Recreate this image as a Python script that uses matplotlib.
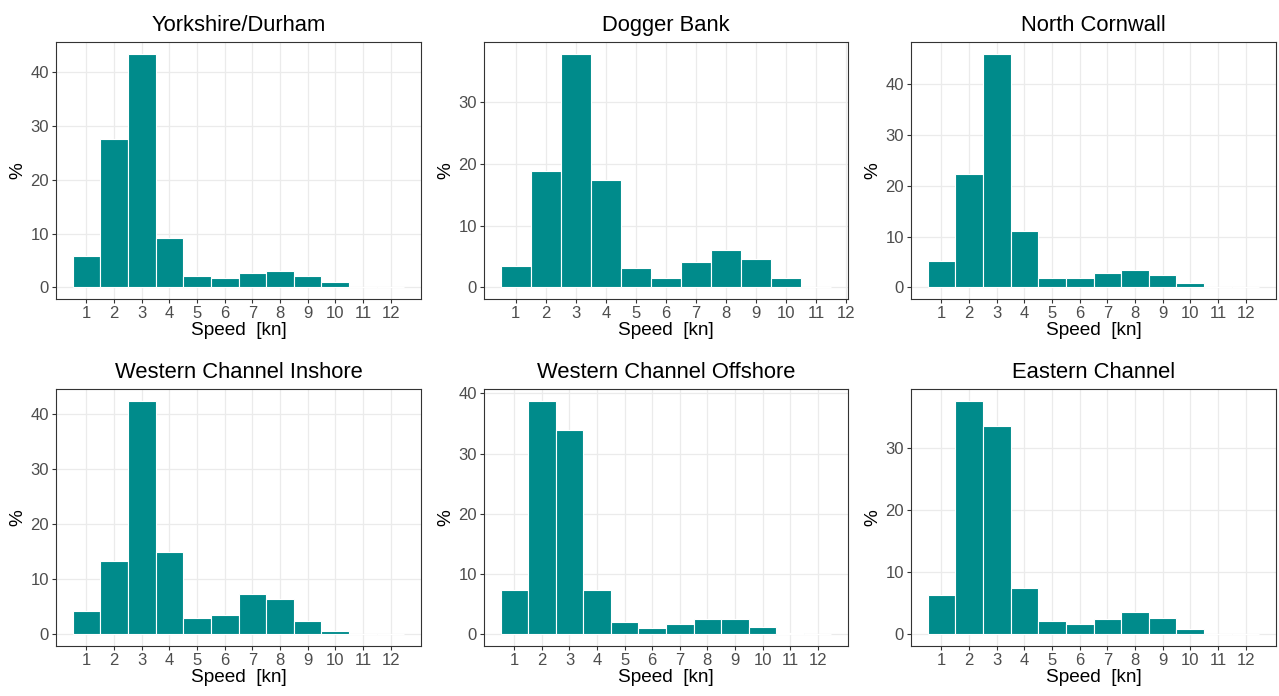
import matplotlib
matplotlib.use("Agg")
import matplotlib.pyplot as plt
from matplotlib.ticker import MultipleLocator

plt.rcParams['font.family'] = ['Liberation Sans', 'DejaVu Sans']

titles = ["Yorkshire/Durham", "Dogger Bank", "North Cornwall",
          "Western Channel Inshore", "Western Channel Offshore", "Eastern Channel"]

# percentage of time in each 1-knot speed bin
yorkshire = [5.8, 27.6, 43.5, 9.1, 2.2, 1.7, 2.7, 3.1, 2.2, 0.9, 0, 0]
dogger = [3.5, 18.9, 37.9, 17.4, 3.2, 1.5, 4.1, 6.0, 4.6, 1.5, 0]
cornwall = [5.2, 22.4, 46.0, 11.0, 1.8, 1.8, 2.9, 3.5, 2.4, 0.9, 0, 0]
wc_inshore = [4.2, 13.4, 42.5, 15.0, 2.9, 3.6, 7.3, 6.5, 2.5, 0.6, 0, 0]
wc_offshore = [7.3, 38.8, 33.9, 7.4, 2.0, 1.1, 1.7, 2.5, 2.5, 1.2, 0.15, 0]
eastern = [6.3, 37.7, 33.6, 7.5, 2.2, 1.7, 2.5, 3.6, 2.6, 0.8, 0, 0]

series = [yorkshire, dogger, cornwall, wc_inshore, wc_offshore, eastern]
speed_ticks = list(range(1, 13))

W, H = 1279, 696
fig = plt.figure(figsize=(W / 100, H / 100), dpi=100)

# panel boxes in pixels (left, top, right, bottom)
boxes = [(56, 42, 421, 299), (484, 42, 848, 299), (911, 42, 1276, 299),
         (56, 389, 421, 646), (484, 389, 848, 646), (911, 389, 1276, 646)]

teal = '#008B8B'
for title, vals, (l, t, r, b) in zip(titles, series, boxes):
    ax = fig.add_axes([l / W, 1 - b / H, (r - l) / W, (b - t) / H])
    n = len(vals)
    xs = list(range(1, n + 1))
    ax.bar(xs, vals, width=1, color=teal, edgecolor='white', linewidth=0.8, zorder=3)

    lo, hi = 0.5, n + 0.5
    pad = 0.05 * (hi - lo)
    ax.set_xlim(lo - pad, hi + pad)
    ymax = max(vals)
    ax.set_ylim(-0.05 * ymax, 1.05 * ymax)

    ax.set_xticks(speed_ticks)
    ax.yaxis.set_major_locator(MultipleLocator(10))
    ax.grid(True, color='#EBEBEB', linewidth=0.9, zorder=0)
    ax.set_axisbelow(True)
    for s in ax.spines.values():
        s.set_color('#333333')
        s.set_linewidth(0.8)
    ax.tick_params(colors='#333333', length=3, width=0.8, labelsize=12,
                   labelcolor='#4D4D4D', pad=2)

    ax.set_title(title, fontsize=15.8, color='black', pad=8)
    ax.set_xlabel("Speed  [kn]", fontsize=13.7, labelpad=1)
    ax.set_ylabel("%", fontsize=13.7, labelpad=3)

fig.savefig("out.png", dpi=100)
